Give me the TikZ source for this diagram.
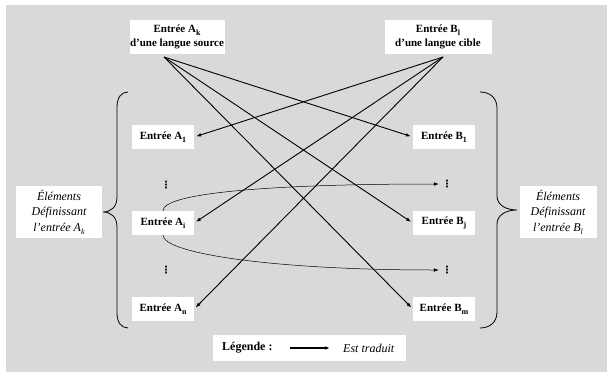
\documentclass[tikz,border=0pt]{standalone}
\usepackage{fontspec}
\setmainfont{Liberation Serif}
\newfontfamily\symfont{DejaVu Sans}
\usetikzlibrary{arrows.meta}

\newcommand{\ix}[1]{\raisebox{-0.55ex}{\footnotesize #1}}

\begin{document}
\begin{tikzpicture}[x=1pt,y=-1pt,
          box/.style={fill=white,inner sep=0pt,align=center,font=\fontsize{11}{14}\selectfont\bfseries},
          ent/.style={box,minimum width=62pt,minimum height=24pt},
          lbl/.style={fill=white,inner sep=0pt,align=center,font=\fontsize{12}{15.5}\selectfont\itshape},
          dt/.style={inner sep=0pt,font=\symfont\bfseries\fontsize{10}{10}\selectfont},
          fl/.style={-{Latex[length=5pt,width=3.6pt]},line width=0.9pt,shorten >=2pt},
          cv/.style={-{Latex[length=5pt,width=3.6pt]},line width=0.5pt,shorten >=3pt},
          acc/.style={line width=0.8pt}
        ]
        \fill[black!15] (6,5) rectangle (607,372);
        \useasboundingbox (0,0) rectangle (607,372);
        % top entries
        \node[box,minimum width=95pt,minimum height=34pt] (ak) at (177,37) {Entrée A\ix{k}\\d'une langue source};
        \node[box,minimum width=107pt,minimum height=34pt] (bl) at (438,37) {Entrée B\ix{l}\\d'une langue cible};
        \coordinate (akout) at (164,57);
        \coordinate (blout) at (443,57);
        % columns
        \foreach\n/\s/\y in {a1/1/137,ai/i/223,an/n/309}{\node[ent] (\n) at (163,\y) {Entrée A\ix{\s}};}
        \foreach\n/\s/\y in {b1/1/137,bj/j/223,bm/m/309}{\node[ent] (\n) at (444,\y) {Entrée B\ix{\s}};}
        \foreach\n/\x/\y in {ad1/166/185,ad2/166/270,bd1/447/184,bd2/447/270}{\node[dt] (\n) at (\x,\y) {⋮};}
        % translations
        \foreach\t in {b1,bj,bm}{\draw[fl] (akout) -- (\t.west);}
        \foreach\t in {a1,ai,an}{\draw[fl] (blout) -- (\t.east);}
        \draw[cv] (ai.north) .. controls +(0,-18) and +(-170,0) .. (bd1.west);
        \draw[cv] (ai.south) .. controls +(0,18) and +(-170,0) .. (bd2.west);
        % braces
        \draw[acc] (128,92) .. controls (121,92) and (117,98) .. (117,107) -- (117,197)
          .. controls (117,207) and (111,212) .. (103,212)
          .. controls (111,212) and (117,217) .. (117,227) -- (117,313)
          .. controls (117,322) and (121,328) .. (128,328);
        \draw[acc] (480,92) .. controls (490,92) and (497,98) .. (497,108) -- (497,196)
          .. controls (497,205) and (506,210) .. (517,210)
          .. controls (506,210) and (497,215) .. (497,224) -- (497,312)
          .. controls (497,322) and (490,328) .. (480,328);
        \node[lbl,minimum width=86pt,minimum height=52pt] (defa) at (59,212) {Éléments\\Définissant\\l'entrée A\ix{k}};
        \node[lbl,minimum width=77pt,minimum height=52pt] (defb) at (558,212) {Éléments\\Définissant\\l'entrée B\ix{l}};
        % legend
        \node[fill=white,minimum width=193pt,minimum height=26pt] (leg) at (309.5,348) {};
        \node[anchor=west,inner sep=0pt,font=\fontsize{12}{14}\selectfont\bfseries] (legt) at (222,348) {Légende :};
        \coordinate (lega) at (290,348);
        \coordinate (legb) at (330,348);
        \draw[-{Latex[length=5pt,width=3.6pt]},line width=1.2pt] (lega) -- (legb);
        \node[anchor=west,inner sep=0pt,font=\fontsize{12}{14}\selectfont\itshape] (legd) at (343,348) {Est traduit};
      \end{tikzpicture}
\end{document}
